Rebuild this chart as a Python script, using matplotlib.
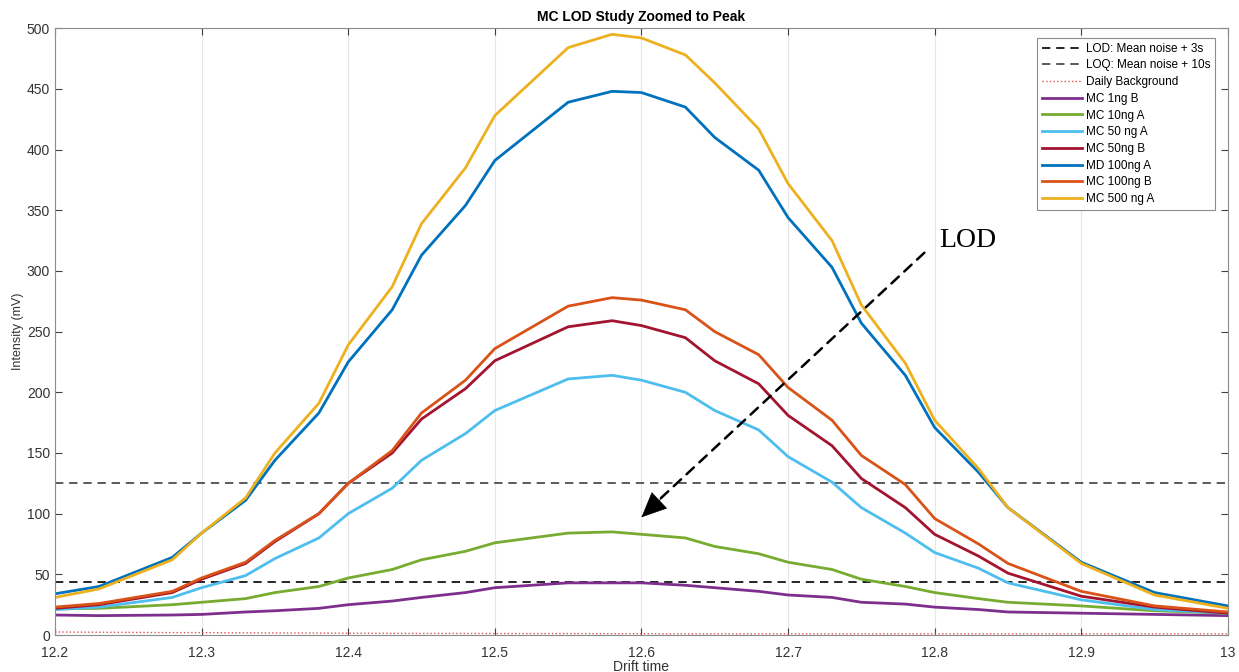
import matplotlib.pyplot as plt

# drift time points
drift = [12.2, 12.23, 12.28, 12.30, 12.33, 12.35, 12.38, 12.40, 12.43, 12.45,
         12.48, 12.50, 12.55, 12.58, 12.60, 12.63, 12.65, 12.68, 12.70, 12.73,
         12.75, 12.78, 12.80, 12.83, 12.85, 12.90, 12.95, 13.0]

mc_1ng_b = [16.5, 16, 16.5, 17, 19, 20, 22, 25, 28, 31, 35, 39, 43, 43, 43, 41,
            39, 36, 33, 31, 27, 25.5, 23, 21, 19, 18, 17, 16]
mc_10ng_a = [21.5, 22, 25, 27, 30, 35, 40, 47, 54, 62, 69, 76, 84, 85, 83, 80,
             73, 67, 60, 54, 46, 40, 35, 30, 27, 24, 20, 18]
mc_50ng_a = [21, 23, 31, 39, 49, 63, 80, 100, 121, 144, 166, 185, 211, 214, 210,
             200, 185, 169, 147, 126, 105, 84, 68, 55, 43, 29, 21, 18]
mc_50ng_b = [22, 25, 35, 46, 59, 77, 100, 125, 150, 178, 203, 226, 254, 259, 255,
             245, 226, 207, 181, 156, 129, 105, 83, 65, 51, 32, 23, 18]
md_100ng_a = [34, 40, 64, 84, 111, 144, 183, 225, 268, 313, 354, 391, 439, 448,
              447, 435, 410, 383, 344, 303, 257, 214, 171, 134, 105, 60, 35, 24]
mc_100ng_b = [23, 26, 36, 47, 60, 78, 100, 125, 152, 183, 210, 236, 271, 278, 276,
              268, 250, 231, 204, 177, 148, 124, 96, 75, 59, 36, 24, 19]
mc_500ng_a = [31, 38, 62, 84, 113, 150, 191, 239, 287, 339, 385, 428, 484, 495,
              492, 478, 455, 417, 372, 325, 272, 224, 177, 137, 105, 59, 33, 22]
daily_bg = [2.5, 2.3, 2, 2, 1.8, 1.7, 1.6, 1.5, 1.4, 1.3, 1.3, 1.2, 1.2, 1.1,
            1.1, 1, 1, 1, 1, 1, 1, 1, 1, 1, 1, 1, 1, 1]

lod = 43.7
loq = 125

series = [
    ("MC 1ng B", mc_1ng_b, "#7E2F8E"),
    ("MC 10ng A", mc_10ng_a, "#77AC30"),
    ("MC 50 ng A", mc_50ng_a, "#4DBEEE"),
    ("MC 50ng B", mc_50ng_b, "#A2142F"),
    ("MD 100ng A", md_100ng_a, "#0072BD"),
    ("MC 100ng B", mc_100ng_b, "#D95319"),
    ("MC 500 ng A", mc_500ng_a, "#EDB120"),
]

plt.rcParams['font.family'] = ['Liberation Sans', 'DejaVu Sans']

fig = plt.figure(figsize=(12.39, 6.72), dpi=100)
ax = fig.add_axes([0.0444, 0.055, 0.9466, 0.903])

ax.axhline(lod, color="black", ls=(0, (5, 3.5)), lw=1.2, label="LOD: Mean noise + 3s")
ax.axhline(loq, color="#404040", ls=(0, (5, 3.5)), lw=1.2, label="LOQ: Mean noise + 10s")
ax.plot(drift, daily_bg, color="#D9534F", ls=":", lw=1, label="Daily Background")
for name, vals, col in series:
    ax.plot(drift, vals, color=col, lw=2, label=name)

ax.set_xlim(12.2, 13)
ax.set_ylim(0, 500)
ax.set_xticks([12.2, 12.3, 12.4, 12.5, 12.6, 12.7, 12.8, 12.9, 13])
ax.set_xticklabels(["12.2", "12.3", "12.4", "12.5", "12.6", "12.7", "12.8", "12.9", "13"])
ax.set_yticks(range(0, 501, 50))
ax.grid(axis="x", color="#e6e6e6", lw=0.8)
ax.tick_params(direction="in", top=True, right=True, length=5, colors="#404040",
               labelsize=10, labelcolor="#333333")
ax.tick_params(axis="x", pad=8)
for s in ax.spines.values():
    s.set_color("#8c8c8c")

ax.set_title("MC LOD Study Zoomed to Peak", fontsize=10, fontweight="bold", pad=5)
ax.set_xlabel("Drift time", fontsize=10, color="#333333", labelpad=0)
ax.set_ylabel("Intensity (mV)", fontsize=9, color="#333333", labelpad=2)

leg = ax.legend(loc="upper right", bbox_to_anchor=(0.989, 0.984), borderaxespad=0,
                fontsize=8.5, handlelength=3.4, labelspacing=0.4, fancybox=False,
                framealpha=1, edgecolor="#8c8c8c", handletextpad=0.3)
leg.get_frame().set_linewidth(0.8)

# dashed shaft, then a solid head
ax.annotate("", xy=(12.609, 108), xytext=(12.793, 315),
            arrowprops=dict(arrowstyle="-", color="black", lw=1.8,
                            ls=(0, (4, 3)), shrinkA=0, shrinkB=0))
ax.annotate("", xy=(12.600, 97), xytext=(12.614, 113),
            arrowprops=dict(arrowstyle="-|>,head_length=1.0,head_width=0.45",
                            mutation_scale=17, color="black", lw=0.5,
                            shrinkA=0, shrinkB=0))
ax.text(12.803, 325, "LOD", fontsize=20, family=["Liberation Serif"],
        va="center", ha="left")

fig.savefig("out.png", dpi=100)
